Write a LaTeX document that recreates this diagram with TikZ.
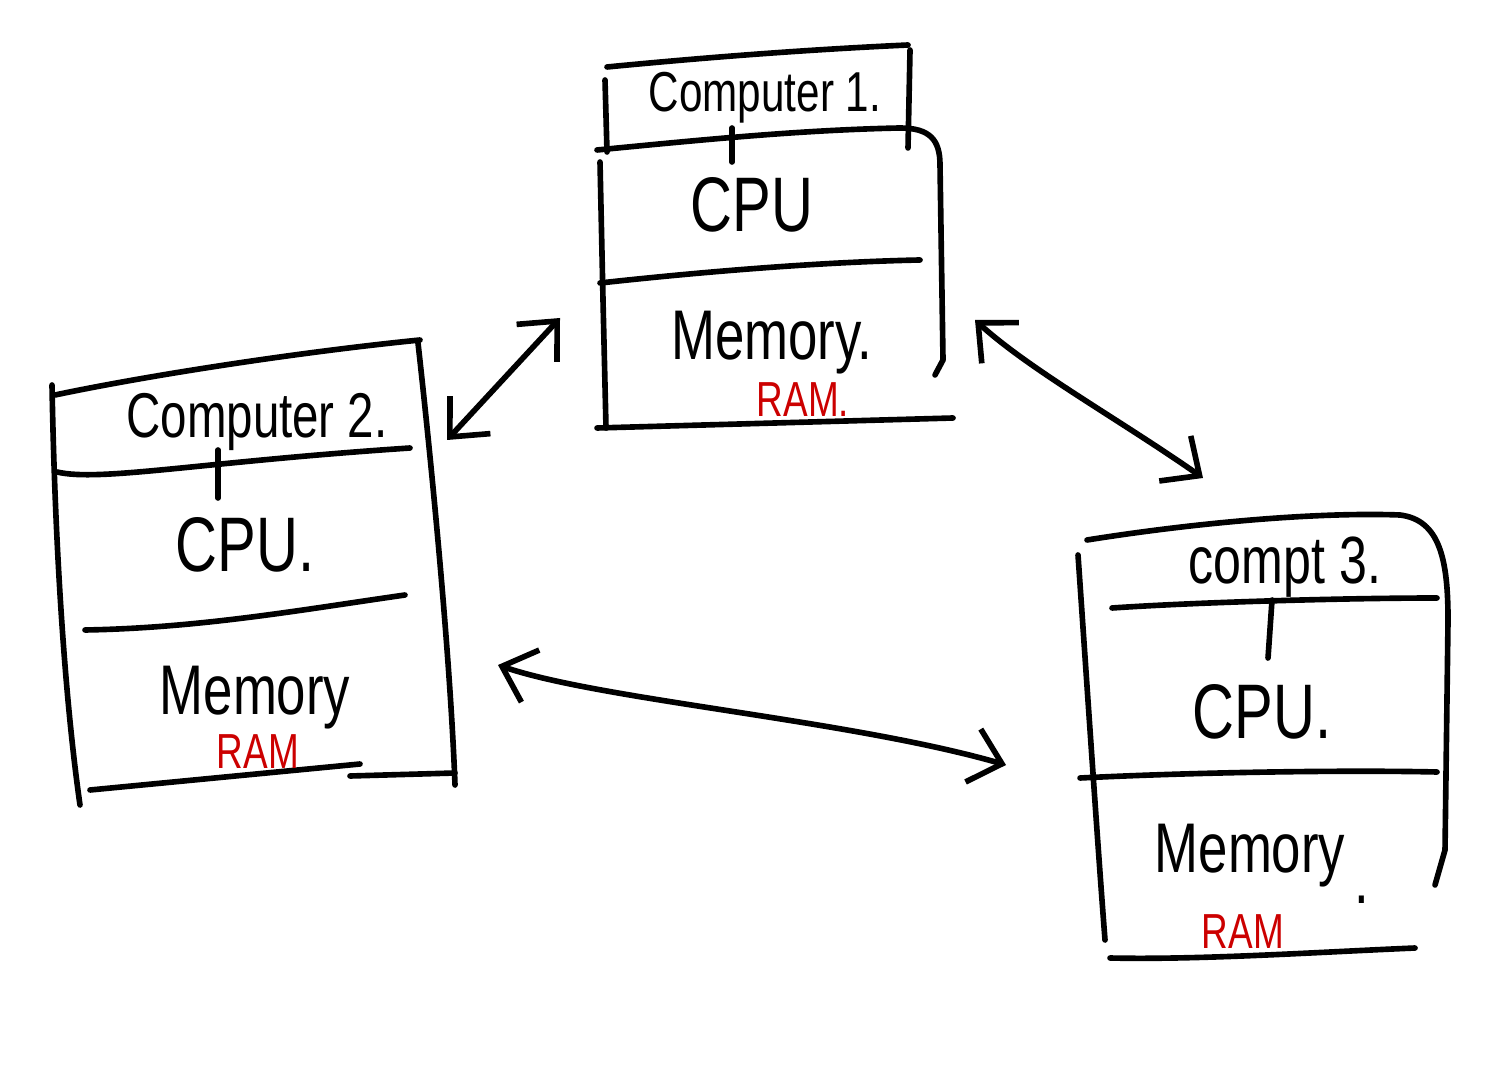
\documentclass[tikz,border=0pt]{standalone}
\usepackage{fontspec}
\setmainfont{Liberation Sans}
\usetikzlibrary{arrows.meta}
\definecolor{inkred}{RGB}{204,0,0}
\begin{document}
\begin{tikzpicture}[x=0.01cm,y=-0.01cm,
  ink/.style={line width=1.6pt,line cap=round,line join=round},
  conn/.style={ink,{Straight Barb[length=3mm,width=5.5mm]}-{Straight Barb[length=3mm,width=5.5mm]}},
  titletext/.style={font=\fontsize{16}{18}\selectfont,xscale=0.75},
  parttext/.style={font=\fontsize{22}{24}\selectfont,xscale=0.75},
  memtext/.style={font=\fontsize{20}{22}\selectfont,xscale=0.75},
  ramtext/.style={font=\fontsize{14}{16}\selectfont,xscale=0.75,text=inkred}]
\useasboundingbox[fill=white] (0,0) rectangle (1510,1083);

% ---------- Computer 1 ----------
\draw[ink] (607,67) .. controls (700,58) and (800,50) .. (908,45);
\draw[ink] (910,50) -- (908,148);
\draw[ink] (605,80) -- (607,152);
\draw[ink] (597,150) .. controls (700,140) and (800,130) .. (900,128)
  .. controls (930,128) and (940,140) .. (940,165) -- (943,360) -- (935,375);
\draw[ink] (600,162) -- (603,300) -- (606,428);
\draw[ink] (600,283) .. controls (700,272) and (820,262) .. (920,260);
\draw[ink] (597,428) -- (953,418);
\draw[ink] (732,128) -- (732,162);
\node[titletext] (t1) at (765,98) {Computer 1.};
\node[parttext] (cpu1) at (752,205) {CPU};
\node[memtext] (mem1) at (772,343) {Memory.};
\node[ramtext] (ram1) at (803,400) {RAM.};

% ---------- Computer 2 ----------
\draw[ink] (55,395) .. controls (150,375) and (300,352) .. (420,340);
\draw[ink] (52,385) .. controls (55,550) and (65,700) .. (80,805);
\draw[ink] (418,343) .. controls (430,450) and (450,650) .. (455,785);
\draw[ink] (57,472) .. controls (100,482) and (200,462) .. (410,448);
\draw[ink] (85,630) .. controls (200,628) and (300,610) .. (405,595);
\draw[ink] (90,790) -- (360,764);
\draw[ink] (350,776) -- (455,773);
\draw[ink] (218,450) -- (218,498);
\node[titletext,font=\fontsize{18}{20}\selectfont] (t2) at (257,422) {Computer 2.};
\node[parttext] (cpu2) at (245,545) {CPU.};
\node[memtext] (mem2) at (255,698) {Memory};
\node[ramtext] (ram2) at (258,752) {RAM};

% ---------- Computer 3 ----------
\draw[ink] (1087,540) .. controls (1200,522) and (1320,512) .. (1400,515)
  .. controls (1440,520) and (1448,560) .. (1448,620) -- (1445,850) -- (1435,885);
\draw[ink] (1078,555) .. controls (1088,700) and (1098,850) .. (1105,940);
\draw[ink] (1112,608) .. controls (1200,602) and (1350,598) .. (1437,598);
\draw[ink] (1080,778) .. controls (1200,772) and (1350,770) .. (1437,772);
\draw[ink] (1110,958) .. controls (1200,960) and (1320,952) .. (1415,948);
\draw[ink] (1272,600) -- (1268,658);
\node[titletext,font=\fontsize{19}{21}\selectfont] (t3) at (1285,567) {compt 3.};
\node[parttext] (cpu3) at (1262,712) {CPU.};
\node[memtext] (mem3) at (1250,856) {Memory};
\node[ramtext] (ram3) at (1243,932) {RAM};
\node[memtext] (dot3) at (1362,900) {.};

% ---------- connectors ----------
\coordinate (a1) at (560,318);
\coordinate (a2) at (447,440);
\coordinate (b1) at (975,320);
\coordinate (b2) at (1203,478);
\coordinate (c1) at (498,665);
\coordinate (c2) at (1006,765);
\draw[conn] (a1) -- (a2);
\draw[conn] (b1) .. controls (1030,370) and (1120,420) .. (b2);
\draw[conn] (c1) .. controls (600,700) and (850,720) .. (c2);
\end{tikzpicture}
\end{document}
